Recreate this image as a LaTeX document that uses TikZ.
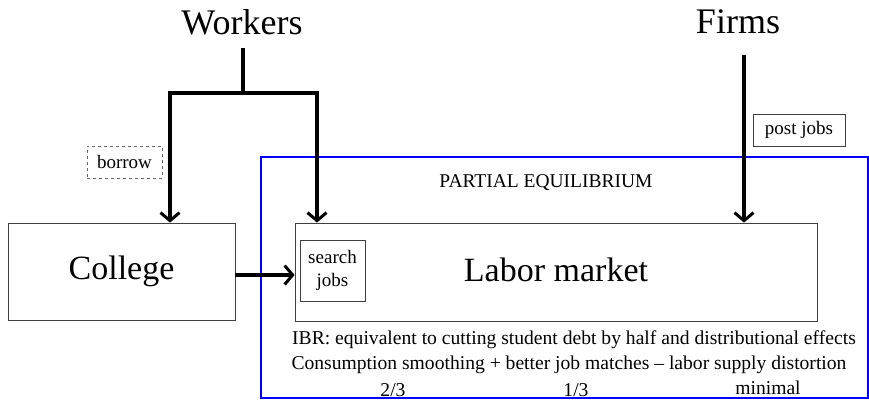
\documentclass[tikz,border=0pt]{standalone}
\usepackage{fontspec}
\setmainfont{Liberation Serif}
\usetikzlibrary{arrows.meta}
\begin{document}
\begin{tikzpicture}[x=1pt,y=-1pt,
  flow/.style={line width=3.3pt,-{Straight Barb[length=8pt,width=19pt,line width=3pt]}},
  stem/.style={line width=3.3pt},
  frame/.style={draw=black!75,line width=0.8pt},
  big/.style={font=\fontsize{34}{36}\selectfont},
  huge/.style={font=\fontsize{36}{38}\selectfont},
  small/.style={font=\fontsize{19}{20}\selectfont},
  note/.style={font=\fontsize{19.6}{22}\selectfont}]
\useasboundingbox (0,0) rectangle (869,400);

% partial-equilibrium frame
\draw[blue,line width=2pt] (261,157) rectangle (868,398);

% actors
\node[huge] (workers) at (242,22) {Workers};
\node[huge] (firms) at (738,22) {Firms};

% main boxes
\node[frame,minimum width=227pt,minimum height=97pt,big] (college) at (121.5,271.5) {College};
\node[frame,minimum width=522pt,minimum height=98pt] (labor) at (556,272) {};
\node[big] (lmtext) at (556,270) {Labor market};
\node[frame,minimum width=65pt,minimum height=61pt,align=center,small,inner sep=0pt] (search) at (332.5,270.5) {search\\[3pt]jobs};

% small labels
\node[draw=black!60,dashed,line width=0.6pt,minimum width=75pt,minimum height=32pt,inner sep=0pt,small] (borrow) at (124.5,162) {borrow};
\node[frame,minimum width=92pt,minimum height=32pt,inner sep=0pt,small] (post) at (799,130) {post jobs};
\node[font=\fontsize{19.5}{20}\selectfont] (pe) at (546,183) {PARTIAL EQUILIBRIUM};

% effects text
\node[note] (ibr) at (574,340) {IBR: equivalent to cutting student debt by half and distributional effects};
\node[note] (cons) at (569,365) {Consumption smoothing + better job matches -- labor supply distortion};
\node[note] (f1) at (393,390) {2/3};
\node[note] (f2) at (576,390) {1/3};
\node[note] (f3) at (768,388) {minimal};

% workers' branching flow
\coordinate (wtop) at (243,48);
\coordinate (wsplit) at (243,93);
\coordinate (wl) at (170,93);
\coordinate (wr) at (317,93);
\draw[stem] (wtop) -- (wsplit);
\draw[stem,line cap=rect] (wl) -- (wr);
\draw[flow] (wl) -- (wl |- college.north);
\draw[flow] (wr) -- (wr |- labor.north);

% firms' flow
\coordinate (ftop) at (744,55);
\draw[flow] (ftop) -- (ftop |- labor.north);

% college to labor market
\draw[flow] (college.east |- 0,275) -- (labor.west |- 0,275);
\end{tikzpicture}
\end{document}
